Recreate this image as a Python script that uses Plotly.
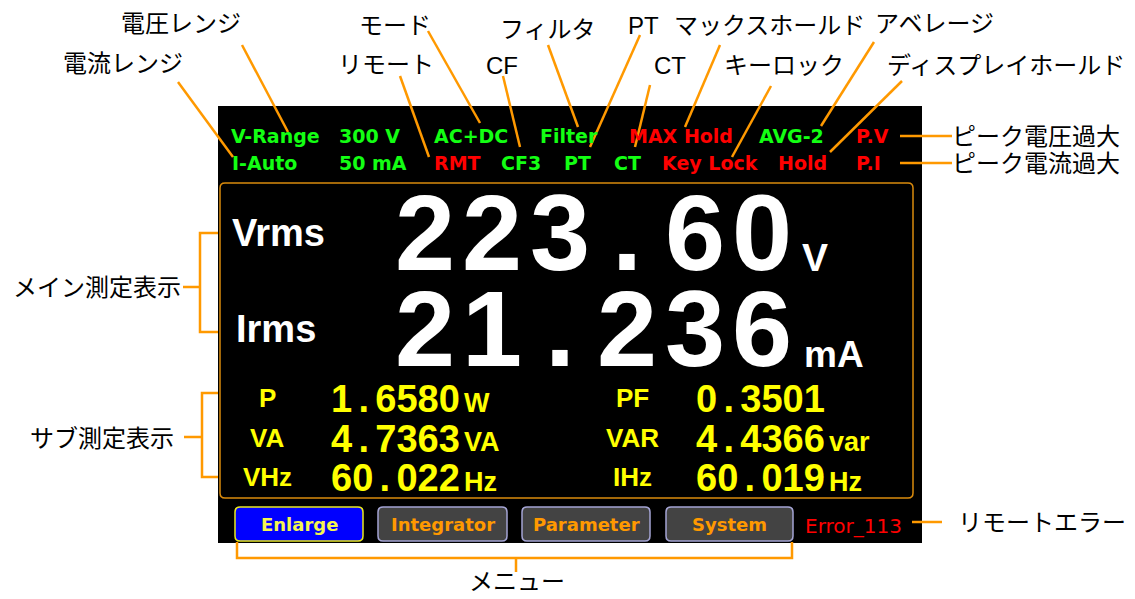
import plotly.graph_objects as go

# ---------------- data (text content of the screen) ----------------
header_row1 = ["V-Range", "300 V", "AC+DC", "Filter", "MAX Hold", "AVG-2", "P.V"]
header_row1_state = ["on", "on", "on", "on", "alert", "on", "alert"]
header_row2 = ["I-Auto", "50 mA", "RMT", "CF3", "PT", "CT", "Key Lock", "Hold", "P.I"]
header_row2_state = ["on", "on", "alert", "on", "on", "on", "alert", "alert", "alert"]

main_labels = ["Vrms", "Irms"]
main_values = ["223.60", "21.236"]
main_units = ["V", "mA"]

sub_labels_left = ["P", "VA", "VHz"]
sub_values_left = ["1.6580", "4.7363", "60.022"]
sub_units_left = ["W", "VA", "Hz"]
sub_labels_right = ["PF", "VAR", "IHz"]
sub_values_right = ["0.3501", "4.4366", "60.019"]
sub_units_right = ["", "var", "Hz"]

menu_items = ["Enlarge", "Integrator", "Parameter", "System"]
error_text = "Error_113"

callout_labels = ["電流レンジ", "電圧レンジ", "リモート", "モード", "CF", "フィルタ", "PT", "CT",
                  "マックスホールド", "キーロック", "アベレージ", "ディスプレイホールド",
                  "ピーク電圧過大", "ピーク電流過大", "リモートエラー"]
bracket_labels = ["メイン測定表示", "サブ測定表示", "メニュー"]

# ---------------- layout (positions / styles) ----------------
W, H = 1135, 599
ORANGE = "#ff9900"
GREEN = "#13ff13"
RED = "#ff0000"
YELLOW = "#ffff00"
SCREEN_FONT = "DejaVu Sans"
DIGIT_FONT = "Liberation Sans"
JP_FONT = "Liberation Sans, Noto Sans CJK JP"
JP_SIZE = 24

row1_x = [232, 340, 435, 541, 630, 760, 857]
row2_x = [233, 340, 435, 502, 565, 615, 663, 779, 857]
row_y = [136, 163]

callout_pos = [  # (text x, text y, anchor)
    (123, 63, "center"), (181, 23, "center"), (386, 64, "center"), (395, 25, "center"),
    (502, 65, "center"), (548, 29, "center"), (643, 25, "center"), (670, 65, "center"),
    (769, 25, "center"), (784, 65, "center"), (934, 23, "center"), (1006, 65, "center"),
    (952, 136, "left"), (952, 163, "left"), (958, 522, "left"),
]
leader_lines = [
    (178, 82, 233, 157), (242, 45, 288, 132), (400, 76, 429, 157), (428, 31, 480, 123),
    (503, 76, 520, 147), (548, 45, 578, 127), (640, 35, 590, 147), (650, 85, 635, 147),
    (720, 45, 685, 127), (771, 86, 732, 157), (874, 42, 821, 126), (902, 81, 830, 152),
    (900, 136, 952, 136), (900, 163, 952, 163), (912, 522, 942, 522),
]

fig = go.Figure()
shapes = []
annos = []


def rrect(x0, y0, x1, y1, r):
    return (f"M{x0+r},{y0} L{x1-r},{y0} Q{x1},{y0} {x1},{y0+r} L{x1},{y1-r} "
            f"Q{x1},{y1} {x1-r},{y1} L{x0+r},{y1} Q{x0},{y1} {x0},{y1-r} "
            f"L{x0},{y0+r} Q{x0},{y0} {x0+r},{y0} Z")


def text(x, y, s, size, color, family=SCREEN_FONT, weight=700, xanchor="left"):
    annos.append(dict(x=x, y=y, text=s, showarrow=False, xanchor=xanchor, yanchor="middle",
                      font=dict(family=family, size=size, color=color, weight=weight),
                      borderpad=0, borderwidth=0))


def mono(x_first, pitch, y, s, size, color, family=DIGIT_FONT):
    for i, ch in enumerate(s):
        text(x_first + i * pitch, y, ch, size, color, family=family, xanchor="center")


def cell_period(s):
    # decimal point occupies a full digit cell, as on the instrument display
    return s.replace(".", "\u2006.\u2006")


# screen background
shapes.append(dict(type="rect", x0=218, y0=106, x1=922, y1=543, fillcolor="black",
                   line=dict(width=0), layer="below"))
# measurement frame
shapes.append(dict(type="path", path=rrect(220, 183, 913, 498, 5),
                   line=dict(color="#d98a0c", width=1.5)))

# header rows
for labels, states, xs, y in [(header_row1, header_row1_state, row1_x, row_y[0]),
                              (header_row2, header_row2_state, row2_x, row_y[1])]:
    for s, st, x in zip(labels, states, xs):
        text(x - 1, y, s, 19, GREEN if st == "on" else RED)

# main measurement
main_y = [232.5, 328.5]
main_label_x = [232, 236]
main_unit_y = [257.5, 354]
main_unit_x = [802, 804]
for lab, val, unit, y, lx, uy, ux in zip(main_labels, main_values, main_units, main_y,
                                        main_label_x, main_unit_y, main_unit_x):
    text(lx, y + 0.5, lab, 38, "white", family=DIGIT_FONT)
    mono(425, 67.4, y, val, 108, "white")
    text(ux, uy, unit, 39 if unit == "V" else 37, "white", family=DIGIT_FONT)

# sub measurement
sub_y = [399, 438.5, 478]
for col, (labs, vals, units, lab_cx, vx, ux) in enumerate([
        (sub_labels_left, sub_values_left, sub_units_left, 267, 330.5, 464),
        (sub_labels_right, sub_values_right, sub_units_right, 632, 695.5, 829)]):
    for lab, val, unit, y in zip(labs, vals, units, sub_y):
        text(lab_cx, y - 1, lab, 26, YELLOW, family=DIGIT_FONT, xanchor="center")
        text(vx, y, cell_period(val), 38, YELLOW, family=DIGIT_FONT)
        if unit:
            text(ux, y + 3.5, unit, 27, YELLOW, family=DIGIT_FONT)

# menu buttons
btn_x = [(235, 363), (378, 507), (522, 650), (666, 793)]
for i, (item, (bx0, bx1)) in enumerate(zip(menu_items, btn_x)):
    active = i == 0
    shapes.append(dict(type="path", path=rrect(bx0, 507, bx1, 541, 5),
                       fillcolor="#0000ff" if active else "#434343",
                       line=dict(color="#e8e820" if active else "#a4a4d4", width=1.5)))
    text((bx0 + bx1) / 2, 524.5, item, 18, "#f5f550" if active else ORANGE, xanchor="center")
text(805, 526, error_text, 20, RED, weight=400)

# callouts
for lab, (tx, ty, anc), (x0, y0, x1, y1) in zip(callout_labels, callout_pos, leader_lines):
    shapes.append(dict(type="line", x0=x0, y0=y0, x1=x1, y1=y1,
                       line=dict(color=ORANGE, width=2.5)))
    text(tx, ty, lab, JP_SIZE, "black", family=JP_FONT, weight=400, xanchor=anc)

# brackets
bracket_paths = [
    "M218,233 L200,233 L200,332 L218,332 M183,287 L200,287",
    "M218,393 L202,393 L202,477 L218,477 M184,437 L202,437",
    "M237,542 L237,558 L792,558 L792,542 M516,558 L516,572",
]
bracket_text = [(181, 287, "right"), (174, 438, "right"), (517, 581, "center")]
for lab, p, (tx, ty, anc) in zip(bracket_labels, bracket_paths, bracket_text):
    shapes.append(dict(type="path", path=p, line=dict(color=ORANGE, width=2.5)))
    text(tx, ty, lab, JP_SIZE, "black", family=JP_FONT, weight=400, xanchor=anc)

fig.update_layout(
    width=W, height=H, margin=dict(l=0, r=0, t=0, b=0),
    paper_bgcolor="white", plot_bgcolor="white",
    xaxis=dict(range=[0, W], visible=False, fixedrange=True),
    yaxis=dict(range=[H, 0], visible=False, fixedrange=True),
    shapes=shapes, annotations=annos, showlegend=False,
)
fig.write_html("out.html", config={"displayModeBar": False},
               post_script="document.body.style.margin='0';document.body.style.overflow='hidden';")
